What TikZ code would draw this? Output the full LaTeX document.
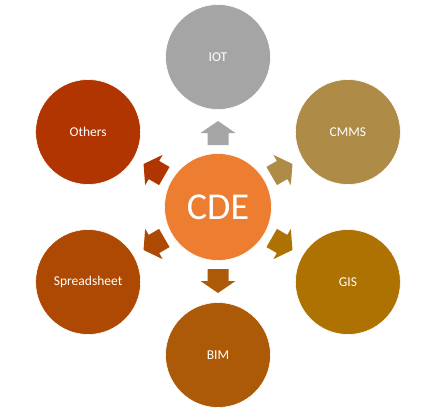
\documentclass[tikz,border=0pt]{standalone}
\usepackage{fontspec}
\setmainfont{Carlito}
\usetikzlibrary{calc}
\definecolor{cde}{HTML}{ED7D31}
\definecolor{iot}{HTML}{A5A5A5}
\definecolor{cmms}{HTML}{AE8B46}
\definecolor{gis}{HTML}{AD7201}
\definecolor{bim}{HTML}{AC5A07}
\definecolor{spread}{HTML}{AE4903}
\definecolor{others}{HTML}{B13500}
\tikzset{
  ball/.style={circle, minimum size=105pt, inner sep=0pt, text=white, font=\fontsize{13.5}{15}\selectfont, draw=white, line width=0.6pt},
  arr/.style={draw=none}
}
\newcommand{\myarrow}[2]{%
  \begin{scope}[shift={(C)}, rotate=#1]
    \fill[#2] (62,-10.5) -- (74,-10.5) -- (74,-17.5) -- (86,0) -- (74,17.5) -- (74,10.5) -- (62,10.5) -- cycle;
  \end{scope}}
\begin{document}
\begin{tikzpicture}[x=1pt,y=1pt]
\useasboundingbox (0,0) rectangle (430,413);
\coordinate (C) at (218,206);
\node[ball, fill=cde, minimum size=107pt, font=\fontsize{38}{40}\selectfont] (cdeN) at (C) {CDE};
\node[ball, fill=iot] (iotN) at ($(C)+(90:150)$) {IOT};
\node[ball, fill=cmms] (cmmsN) at ($(C)+(30:150)$) {CMMS};
\node[ball, fill=gis] (gisN) at ($(C)+(-30:150)$) {GIS};
\node[ball, fill=bim] (bimN) at ($(C)+(-90:148)$) {BIM};
\node[ball, fill=spread] (spreadN) at ($(C)+(210:150)$) {Spreadsheet};
\node[ball, fill=others] (othersN) at ($(C)+(150:150)$) {Others};
\myarrow{90}{iot}
\myarrow{30}{cmms}
\myarrow{-30}{gis}
\myarrow{-90}{bim}
\myarrow{210}{spread}
\myarrow{150}{others}
\end{tikzpicture}
\end{document}
